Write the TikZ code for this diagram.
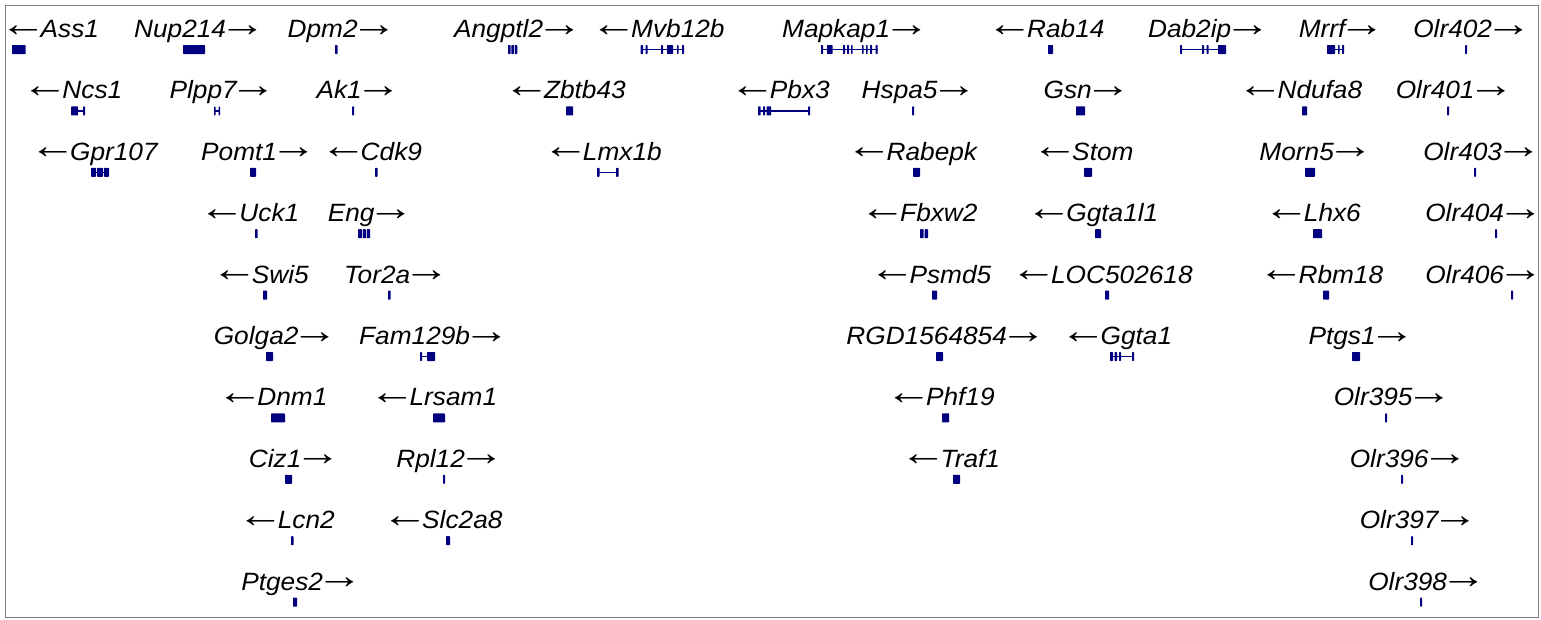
\documentclass[tikz,border=0pt]{standalone}
\usepackage{fontspec}
\usepackage{graphicx}
\setmainfont{Liberation Sans}
\newfontfamily\labfont[FakeStretch=1.05]{Liberation Sans}
\definecolor{genecol}{RGB}{0,0,128}
\newcommand\exn[3]{\fill[genecol,rounded corners=0.6pt] (#1,#3-4.5) rectangle (#2,#3+4.5);}
\newcommand\intr[3]{\draw[genecol,line width=1.5pt] (#1,#3) -- (#2,#3);}
\newcommand\ra{\kern-7pt\raisebox{1.5pt}{\scalebox{1.78}[1.5]{\upshape →}}\kern-7pt}
\newcommand\la{\kern-7pt\raisebox{1.5pt}{\scalebox{1.78}[1.5]{\upshape ←}}\kern-6pt}
\tikzset{lab/.style={anchor=base,inner sep=0pt,font=\labfont\itshape\fontsize{25}{30}\selectfont}}
\begin{document}
\begin{tikzpicture}[x=1pt,y=-1pt]
\useasboundingbox (0,0) rectangle (1541,619);
\draw[gray,line width=1pt] (5.5,5.5) rectangle (1538.5,617.5);
% ---------------- row 1
\def\ry{49.5}\def\rb{37.5}
\node[lab] (ass1) at (53,\rb) {\la Ass1};
\exn{12}{25.7}{\ry}
\node[lab] (nup214) at (196.5,\rb) {Nup214\ra};
\exn{183}{205}{\ry}
\node[lab] (dpm2) at (339,\rb) {Dpm2\ra};
\exn{335}{337.5}{\ry}
\node[lab] (angptl2) at (515,\rb) {Angptl2\ra};
\exn{508}{510.5}{\ry}\exn{511.3}{514}{\ry}\exn{514.8}{517.3}{\ry}
\node[lab] (mvb12b) at (661,\rb) {\la Mvb12b};
\intr{641}{684}{\ry}
\exn{640.7}{643}{\ry}\exn{645.5}{647.5}{\ry}\exn{661}{663}{\ry}\exn{667}{673}{\ry}\exn{677}{678.5}{\ry}\exn{682}{684}{\ry}
\node[lab] (mapkap1) at (852.5,\rb) {Mapkap1\ra};
\intr{821}{878}{\ry}
\exn{821}{823}{\ry}\exn{827}{832.5}{\ry}\exn{843}{845}{\ry}\exn{847}{849}{\ry}\exn{851}{852.5}{\ry}\exn{862}{863.5}{\ry}\exn{866}{867.5}{\ry}\exn{870}{872}{\ry}\exn{875.5}{877.7}{\ry}
\node[lab] (rab14) at (1049,\rb) {\la Rab14};
\exn{1048}{1053}{\ry}
\node[lab] (dab2ip) at (1206,\rb) {Dab2ip\ra};
\intr{1180}{1226}{\ry}
\exn{1180}{1182}{\ry}\exn{1202}{1204}{\ry}\exn{1206.5}{1208.5}{\ry}\exn{1218}{1226}{\ry}
\node[lab] (mrrf) at (1338.5,\rb) {Mrrf\ra};
\intr{1327}{1344}{\ry}
\exn{1327}{1335}{\ry}\exn{1338}{1339.5}{\ry}\exn{1342}{1344}{\ry}
\node[lab] (olr402) at (1469,\rb) {Olr402\ra};
\exn{1465}{1467}{\ry}
% ---------------- row 2
\def\ry{110.9}\def\rb{98.9}
\node[lab] (ncs1) at (75.5,\rb) {\la Ncs1};
\intr{71}{85}{\ry}
\exn{71}{78}{\ry}\exn{83}{85}{\ry}
\node[lab] (plpp7) at (219.5,\rb) {Plpp7\ra};
\intr{214}{220}{\ry}
\exn{214}{215.5}{\ry}\exn{218.5}{220}{\ry}
\node[lab] (ak1) at (355.5,\rb) {Ak1\ra};
\exn{352}{354}{\ry}
\node[lab] (zbtb43) at (568,\rb) {\la Zbtb43};
\exn{566}{573}{\ry}
\node[lab] (pbx3) at (783,\rb) {\la Pbx3};
\intr{758}{810}{\ry}
\exn{758}{760.5}{\ry}\exn{763}{765}{\ry}\exn{766.5}{771}{\ry}\exn{808}{810}{\ry}
\node[lab] (hspa5) at (916,\rb) {Hspa5\ra};
\exn{912}{914}{\ry}
\node[lab] (gsn) at (1084,\rb) {Gsn\ra};
\exn{1076}{1085}{\ry}
\node[lab] (ndufa8) at (1303,\rb) {\la Ndufa8};
\exn{1302}{1307}{\ry}
\node[lab] (olr401) at (1451.5,\rb) {Olr401\ra};
\exn{1447}{1449}{\ry}
% ---------------- row 3
\def\ry{172.3}\def\rb{160.3}
\node[lab] (gpr107) at (97,\rb) {\la Gpr107};
\intr{91}{109}{\ry}
\exn{91}{96}{\ry}\exn{97}{103}{\ry}\exn{104}{109}{\ry}
\node[lab] (pomt1) at (255.5,\rb) {Pomt1\ra};
\exn{250}{256}{\ry}
\node[lab] (cdk9) at (374.5,\rb) {\la Cdk9};
\exn{375}{377.5}{\ry}
\node[lab] (lmx1b) at (605.5,\rb) {\la Lmx1b};
\intr{597}{618}{\ry}
\exn{597}{599.5}{\ry}\exn{616}{618.5}{\ry}
\node[lab] (rabepk) at (915,\rb) {\la Rabepk};
\exn{913}{920}{\ry}
\node[lab] (stom) at (1086,\rb) {\la Stom};
\exn{1084}{1092}{\ry}
\node[lab] (morn5) at (1313,\rb) {Morn5\ra};
\exn{1305}{1315}{\ry}
\node[lab] (olr403) at (1479,\rb) {Olr403\ra};
\exn{1474}{1476}{\ry}
% ---------------- row 4
\def\ry{233.7}\def\rb{221.7}
\node[lab] (uck1) at (252.5,\rb) {\la Uck1};
\exn{255}{257.5}{\ry}
\node[lab] (eng) at (367.5,\rb) {Eng\ra};
\exn{358}{362}{\ry}\exn{362.8}{366}{\ry}\exn{366.8}{370}{\ry}
\node[lab] (fbxw2) at (922,\rb) {\la Fbxw2};
\exn{920}{923.7}{\ry}\exn{924.7}{928}{\ry}
\node[lab] (ggta1l1) at (1095.5,\rb) {\la Ggta1l1};
\exn{1095}{1101}{\ry}
\node[lab] (lhx6) at (1315.5,\rb) {\la Lhx6};
\exn{1313}{1322}{\ry}
\node[lab] (olr404) at (1481,\rb) {Olr404\ra};
\exn{1495}{1497}{\ry}
% ---------------- row 5
\def\ry{295.1}\def\rb{283.1}
\node[lab] (swi5) at (263.5,\rb) {\la Swi5};
\exn{263}{267}{\ry}
\node[lab] (tor2a) at (393.5,\rb) {Tor2a\ra};
\exn{388}{390.5}{\ry}
\node[lab] (psmd5) at (933.5,\rb) {\la Psmd5};
\exn{932}{937}{\ry}
\node[lab] (loc502618) at (1105,\rb) {\la LOC502618};
\exn{1105}{1109}{\ry}
\node[lab] (rbm18) at (1324,\rb) {\la Rbm18};
\exn{1323}{1329}{\ry}
\node[lab] (olr406) at (1481,\rb) {Olr406\ra};
\exn{1511}{1513}{\ry}
% ---------------- row 6
\def\ry{356.5}\def\rb{344.5}
\node[lab] (golga2) at (272.5,\rb) {Golga2\ra};
\exn{266}{273}{\ry}
\node[lab] (fam129b) at (431,\rb) {Fam129b\ra};
\intr{420}{435}{\ry}
\exn{420}{422}{\ry}\exn{427}{435}{\ry}
\node[lab] (rgd) at (943,\rb) {RGD1564854\ra};
\exn{936}{943}{\ry}
\node[lab] (ggta1) at (1119.5,\rb) {\la Ggta1};
\intr{1110}{1134}{\ry}
\exn{1110}{1113}{\ry}\exn{1114.5}{1117}{\ry}\exn{1119}{1121}{\ry}\exn{1132}{1134}{\ry}
\node[lab] (ptgs1) at (1358.5,\rb) {Ptgs1\ra};
\exn{1352}{1360}{\ry}
% ---------------- row 7
\def\ry{417.9}\def\rb{405.9}
\node[lab] (dnm1) at (275.5,\rb) {\la Dnm1};
\exn{271}{285}{\ry}
\node[lab] (lrsam1) at (436.5,\rb) {\la Lrsam1};
\exn{433}{445}{\ry}
\node[lab] (phf19) at (943.5,\rb) {\la Phf19};
\exn{942}{949}{\ry}
\node[lab] (olr395) at (1389.5,\rb) {Olr395\ra};
\exn{1385}{1387}{\ry}
% ---------------- row 8
\def\ry{479.3}\def\rb{467.3}
\node[lab] (ciz1) at (291.5,\rb) {Ciz1\ra};
\exn{285}{292}{\ry}
\node[lab] (rpl12) at (447,\rb) {Rpl12\ra};
\exn{443}{445}{\ry}
\node[lab] (traf1) at (953.5,\rb) {\la Traf1};
\exn{953}{960}{\ry}
\node[lab] (olr396) at (1405.5,\rb) {Olr396\ra};
\exn{1401}{1403}{\ry}
% ---------------- row 9
\def\ry{540.7}\def\rb{528.7}
\node[lab] (lcn2) at (289.5,\rb) {\la Lcn2};
\exn{291}{293.5}{\ry}
\node[lab] (slc2a8) at (445.5,\rb) {\la Slc2a8};
\exn{446}{450}{\ry}
\node[lab] (olr397) at (1415.5,\rb) {Olr397\ra};
\exn{1411}{1413}{\ry}
% ---------------- row 10
\def\ry{602.1}\def\rb{590.1}
\node[lab] (ptges2) at (298.5,\rb) {Ptges2\ra};
\exn{293}{297}{\ry}
\node[lab] (olr398) at (1424,\rb) {Olr398\ra};
\exn{1420}{1422}{\ry}
\end{tikzpicture}
\end{document}
